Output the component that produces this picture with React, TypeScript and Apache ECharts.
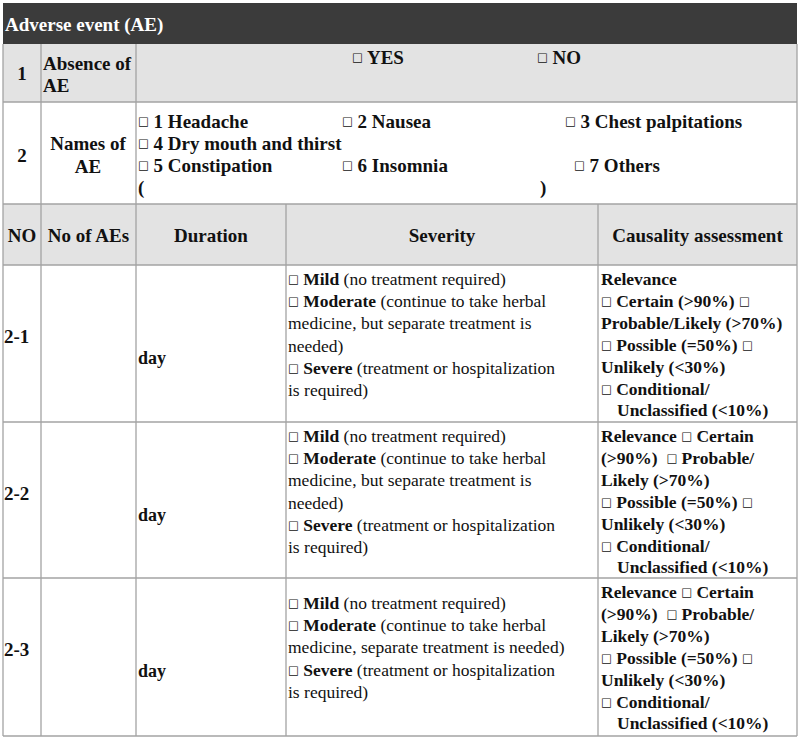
import React, { useEffect, useRef } from "react";
import * as echarts from "echarts";

// ---------- content ----------
const title = "Adverse event (AE)";
const rowNumbers = ["1", "2"];
const absenceLabel = ["Absence of", "AE"];
const absenceOptions = ["□ YES", "□ NO"];
const namesLabel = ["Names of", "AE"];
const aeNames = [
  "□ 1 Headache",
  "□ 2 Nausea",
  "□ 3 Chest palpitations",
  "□ 4 Dry mouth and thirst",
  "□ 5 Constipation",
  "□ 6 Insomnia",
  "□ 7 Others",
];
const othersBrackets = ["(", ")"];
const columnHeaders = ["NO", "No of AEs", "Duration", "Severity", "Causality assessment"];
const aeRowIds = ["2-1", "2-2", "2-3"];
const durationUnit = "day";
const severityLines = [
  [
    "□ {b|Mild} (no treatment required)",
    "□ {b|Moderate} (continue to take herbal",
    "medicine, but separate treatment is",
    "needed)",
    "□ {b|Severe} (treatment or hospitalization",
    "is required)",
  ],
  [
    "□ {b|Mild} (no treatment required)",
    "□ {b|Moderate} (continue to take herbal",
    "medicine, but separate treatment is",
    "needed)",
    "□ {b|Severe} (treatment or hospitalization",
    "is required)",
  ],
  [
    "□ {b|Mild} (no treatment required)",
    "□ {b|Moderate} (continue to take herbal",
    "medicine, separate treatment is needed)",
    "□ {b|Severe} (treatment or hospitalization",
    "is required)",
  ],
];
const causalityLines = [
  [
    "Relevance",
    "□ Certain (>90%) □",
    "Probable/Likely (>70%)",
    "□ Possible (=50%) □",
    "Unlikely (<30%)",
    "□ Conditional/",
    "Unclassified (<10%)",
  ],
  [
    "Relevance □ Certain",
    "(>90%)  □ Probable/",
    "Likely (>70%)",
    "□ Possible (=50%) □",
    "Unlikely (<30%)",
    "□ Conditional/",
    "Unclassified (<10%)",
  ],
  [
    "Relevance □ Certain",
    "(>90%)  □ Probable/",
    "Likely (>70%)",
    "□ Possible (=50%) □",
    "Unlikely (<30%)",
    "□ Conditional/",
    "Unclassified (<10%)",
  ],
];

// ---------- layout ----------
const FONT = "'Liberation Serif', 'Times New Roman', serif";
const LEFT = 3;
const RIGHT = 797;
const COLS = [LEFT, 41, 136, 286, 598, RIGHT];
const Y_TOP = 3;
const Y_TITLE = 44;
const Y_R1 = 102;
const Y_R2 = 204;
const Y_HDR = 265;
const ROW_BOTTOMS = [422, 578, 736];
const BORDER = "#a3a3a3";
const GRAY = "#e3e3e3";
const DARK = "#3b3b3b";
const INK = "#111111";

const rich = {
  b: { fontFamily: FONT, fontWeight: "bold", fontSize: 17.5, fill: INK },
  box: { fontFamily: "'DejaVu Sans', sans-serif", fontWeight: "normal", fontSize: 11.5, fill: INK },
};

function txt(x: number, y: number, s: string, size: number, bold: boolean, align = "left", fill = INK) {
  return {
    type: "text",
    x,
    y,
    z: 3,
    style: {
      text: s.replace(/□/g, "{box|□}"),
      fontFamily: FONT,
      fontSize: size,
      fontWeight: bold ? "bold" : "normal",
      fill,
      align,
      verticalAlign: "middle",
      rich,
    },
  };
}

function hline(y: number, x1 = LEFT, x2 = RIGHT) {
  return { type: "line", z: 2, shape: { x1, y1: y, x2, y2: y }, style: { stroke: BORDER, lineWidth: 1.3 } };
}
function vline(x: number, y1: number, y2: number) {
  return { type: "line", z: 2, shape: { x1: x, y1, x2: x, y2 }, style: { stroke: BORDER, lineWidth: 1.3 } };
}
function rect(x: number, y: number, w: number, h: number, fill: string) {
  return { type: "rect", z: 1, shape: { x, y, width: w, height: h }, style: { fill } };
}

function buildElements() {
  const els: any[] = [];
  const W = RIGHT - LEFT;
  const yEnd = ROW_BOTTOMS[ROW_BOTTOMS.length - 1];

  // backgrounds
  els.push(rect(LEFT, Y_TOP, W, Y_TITLE - Y_TOP, DARK));
  els.push(rect(LEFT, Y_TITLE, W, Y_R1 - Y_TITLE, GRAY));
  els.push(rect(LEFT, Y_R2, W, Y_HDR - Y_R2, GRAY));

  // horizontal rules
  [Y_R1, Y_R2, Y_HDR, ...ROW_BOTTOMS].forEach((y) => els.push(hline(y)));
  // vertical rules
  els.push(vline(LEFT, Y_TITLE, yEnd));
  els.push(vline(RIGHT, Y_TITLE, yEnd));
  els.push(vline(COLS[1], Y_TITLE, yEnd));
  els.push(vline(COLS[2], Y_TITLE, yEnd));
  els.push(vline(COLS[3], Y_R2, yEnd));
  els.push(vline(COLS[4], Y_R2, yEnd));

  // title
  els.push(txt(5, 24, title, 19, true, "left", "#ffffff"));

  // row 1
  els.push(txt(22, 73, rowNumbers[0], 19, true, "center"));
  els.push(txt(43, 63, absenceLabel[0], 19, true));
  els.push(txt(43, 85, absenceLabel[1], 19, true));
  const optX = [352, 537];
  absenceOptions.forEach((o, i) => els.push(txt(optX[i], 57, o, 19, true)));

  // row 2
  els.push(txt(22, 155, rowNumbers[1], 19, true, "center"));
  els.push(txt(88, 143, namesLabel[0], 19, true, "center"));
  els.push(txt(88, 166, namesLabel[1], 19, true, "center"));
  const nameSlots = [
    [138, 121],
    [342, 121],
    [565, 121],
    [138, 143],
    [138, 165],
    [342, 165],
    [574, 165],
  ];
  aeNames.forEach((n, i) => els.push(txt(nameSlots[i][0], nameSlots[i][1], n, 19, true)));
  els.push(txt(138, 187, othersBrackets[0], 19, true));
  els.push(txt(540, 187, othersBrackets[1], 19, true));

  // header row
  const hdrY = 235;
  columnHeaders.forEach((h, i) => {
    const cx = i === 0 ? 22 : (COLS[i] + COLS[i + 1]) / 2;
    els.push(txt(cx, hdrY, h, 19, true, "center"));
  });

  // AE rows
  const tops = [Y_HDR, ...ROW_BOTTOMS.slice(0, -1)];
  aeRowIds.forEach((id, r) => {
    const top = tops[r];
    els.push(txt(4, top + 71, id, 19, true));
    els.push(txt(138, top + 93, durationUnit, 18, true));
    const sev = severityLines[r];
    const sevStart = top + 14 + (6 - sev.length) * 11;
    sev.forEach((line, k) => els.push(txt(288, sevStart + k * 22.2, line, 17.5, false)));
    const cau = causalityLines[r];
    cau.forEach((line, k) => {
      const indent = line.startsWith("Unclassified") ? 16 : 0;
      els.push(txt(601 + indent, top + 14 + k * 21.9, line, 17.5, true));
    });
  });

  return els;
}

export default function App() {
  const ref = useRef<HTMLDivElement>(null);
  useEffect(() => {
    if (!ref.current) return;
    const chart = echarts.init(ref.current, undefined, { renderer: "svg" });
    chart.setOption({
      animation: false,
      backgroundColor: "#ffffff",
      graphic: { elements: buildElements() },
    });
    return () => chart.dispose();
  }, []);
  return (
    <div
      ref={ref}
      style={{ position: "absolute", left: 0, top: 0, width: 800, height: 740, background: "#fff" }}
    />
  );
}
